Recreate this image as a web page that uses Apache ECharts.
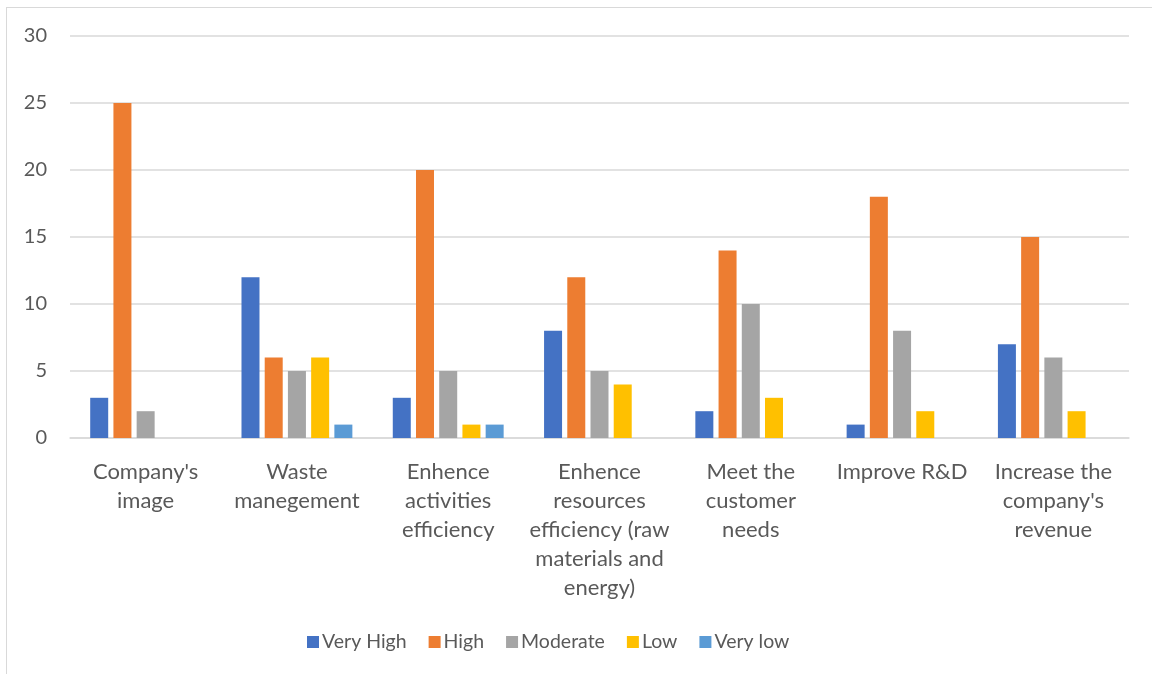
<!DOCTYPE html>
<html>
<head>
<meta charset="utf-8">
<script src="https://cdn.jsdelivr.net/npm/echarts@6/dist/echarts.min.js"></script>
<style>
  html, body { margin: 0; padding: 0; background: #fff; }
  #chart { position: absolute; left: 0; top: 0; width: 1152px; height: 674px; }
  #frame { position: absolute; left: 6px; top: 7px; width: 1200px; height: 700px;
           border-left: 1px solid #d9d9d9; border-top: 1px solid #d9d9d9; pointer-events: none; }
</style>
</head>
<body>
<div id="chart"></div>
<div id="frame"></div>
<script>
// Survey categories (axis labels wrap as in the original sheet)
const categories = [
  "Company's\nimage",
  "Waste\nmanegement",
  "Enhence\nactivities\nefficiency",
  "Enhence\nresources\nefficiency (raw\nmaterials and\nenergy)",
  "Meet the\ncustomer\nneeds",
  "Improve R&D",
  "Increase the\ncompany's\nrevenue"
];

const seriesNames = ["Very High", "High", "Moderate", "Low", "Very low"];

// Response counts per rating level
const veryHigh = [3, 12, 3, 8, 2, 1, 7];
const high     = [25, 6, 20, 12, 14, 18, 15];
const moderate = [2, 5, 5, 5, 10, 8, 6];
const low      = [0, 6, 1, 4, 3, 2, 2];
const veryLow  = [0, 1, 1, 0, 0, 0, 0];

const yTicks = { min: 0, max: 30, interval: 5 };

const colors = ["#4472C4", "#ED7D31", "#A5A5A5", "#FFC000", "#5B9BD5"];
const values = [veryHigh, high, moderate, low, veryLow];

const font = "Lato, 'Open Sans', sans-serif";

const chart = echarts.init(document.getElementById('chart'), null, { renderer: 'canvas' });
chart.setOption({
  animation: false,
  color: colors,
  textStyle: { fontFamily: font },
  grid: { left: 70, right: 23, top: 36, bottom: 236, containLabel: false },
  legend: {
    data: seriesNames,
    bottom: 17,
    left: 302,
    icon: 'rect',
    itemWidth: 12,
    itemHeight: 12,
    itemGap: 22,
    textStyle: { fontFamily: font, fontSize: 19.5, color: '#595959', padding: [0, 0, 0, -2] }
  },
  xAxis: {
    type: 'category',
    data: categories,
    axisLine: { lineStyle: { color: '#d9d9d9', width: 1.5 } },
    axisTick: { show: false },
    axisLabel: {
      interval: 0,
      margin: 19,
      fontFamily: font,
      fontSize: 22,
      color: '#595959',
      lineHeight: 29
    }
  },
  yAxis: {
    type: 'value',
    min: yTicks.min,
    max: yTicks.max,
    interval: yTicks.interval,
    axisLine: { show: false },
    axisTick: { show: false },
    axisLabel: { fontFamily: font, fontSize: 20, color: '#595959', margin: 23 },
    splitLine: { lineStyle: { color: '#d9d9d9', width: 1.5 } }
  },
  series: seriesNames.map((name, i) => ({
    name: name,
    type: 'bar',
    data: values[i],
    barWidth: 18,
    barGap: '29%',
    itemStyle: { color: colors[i] }
  }))
});
</script>
</body>
</html>
